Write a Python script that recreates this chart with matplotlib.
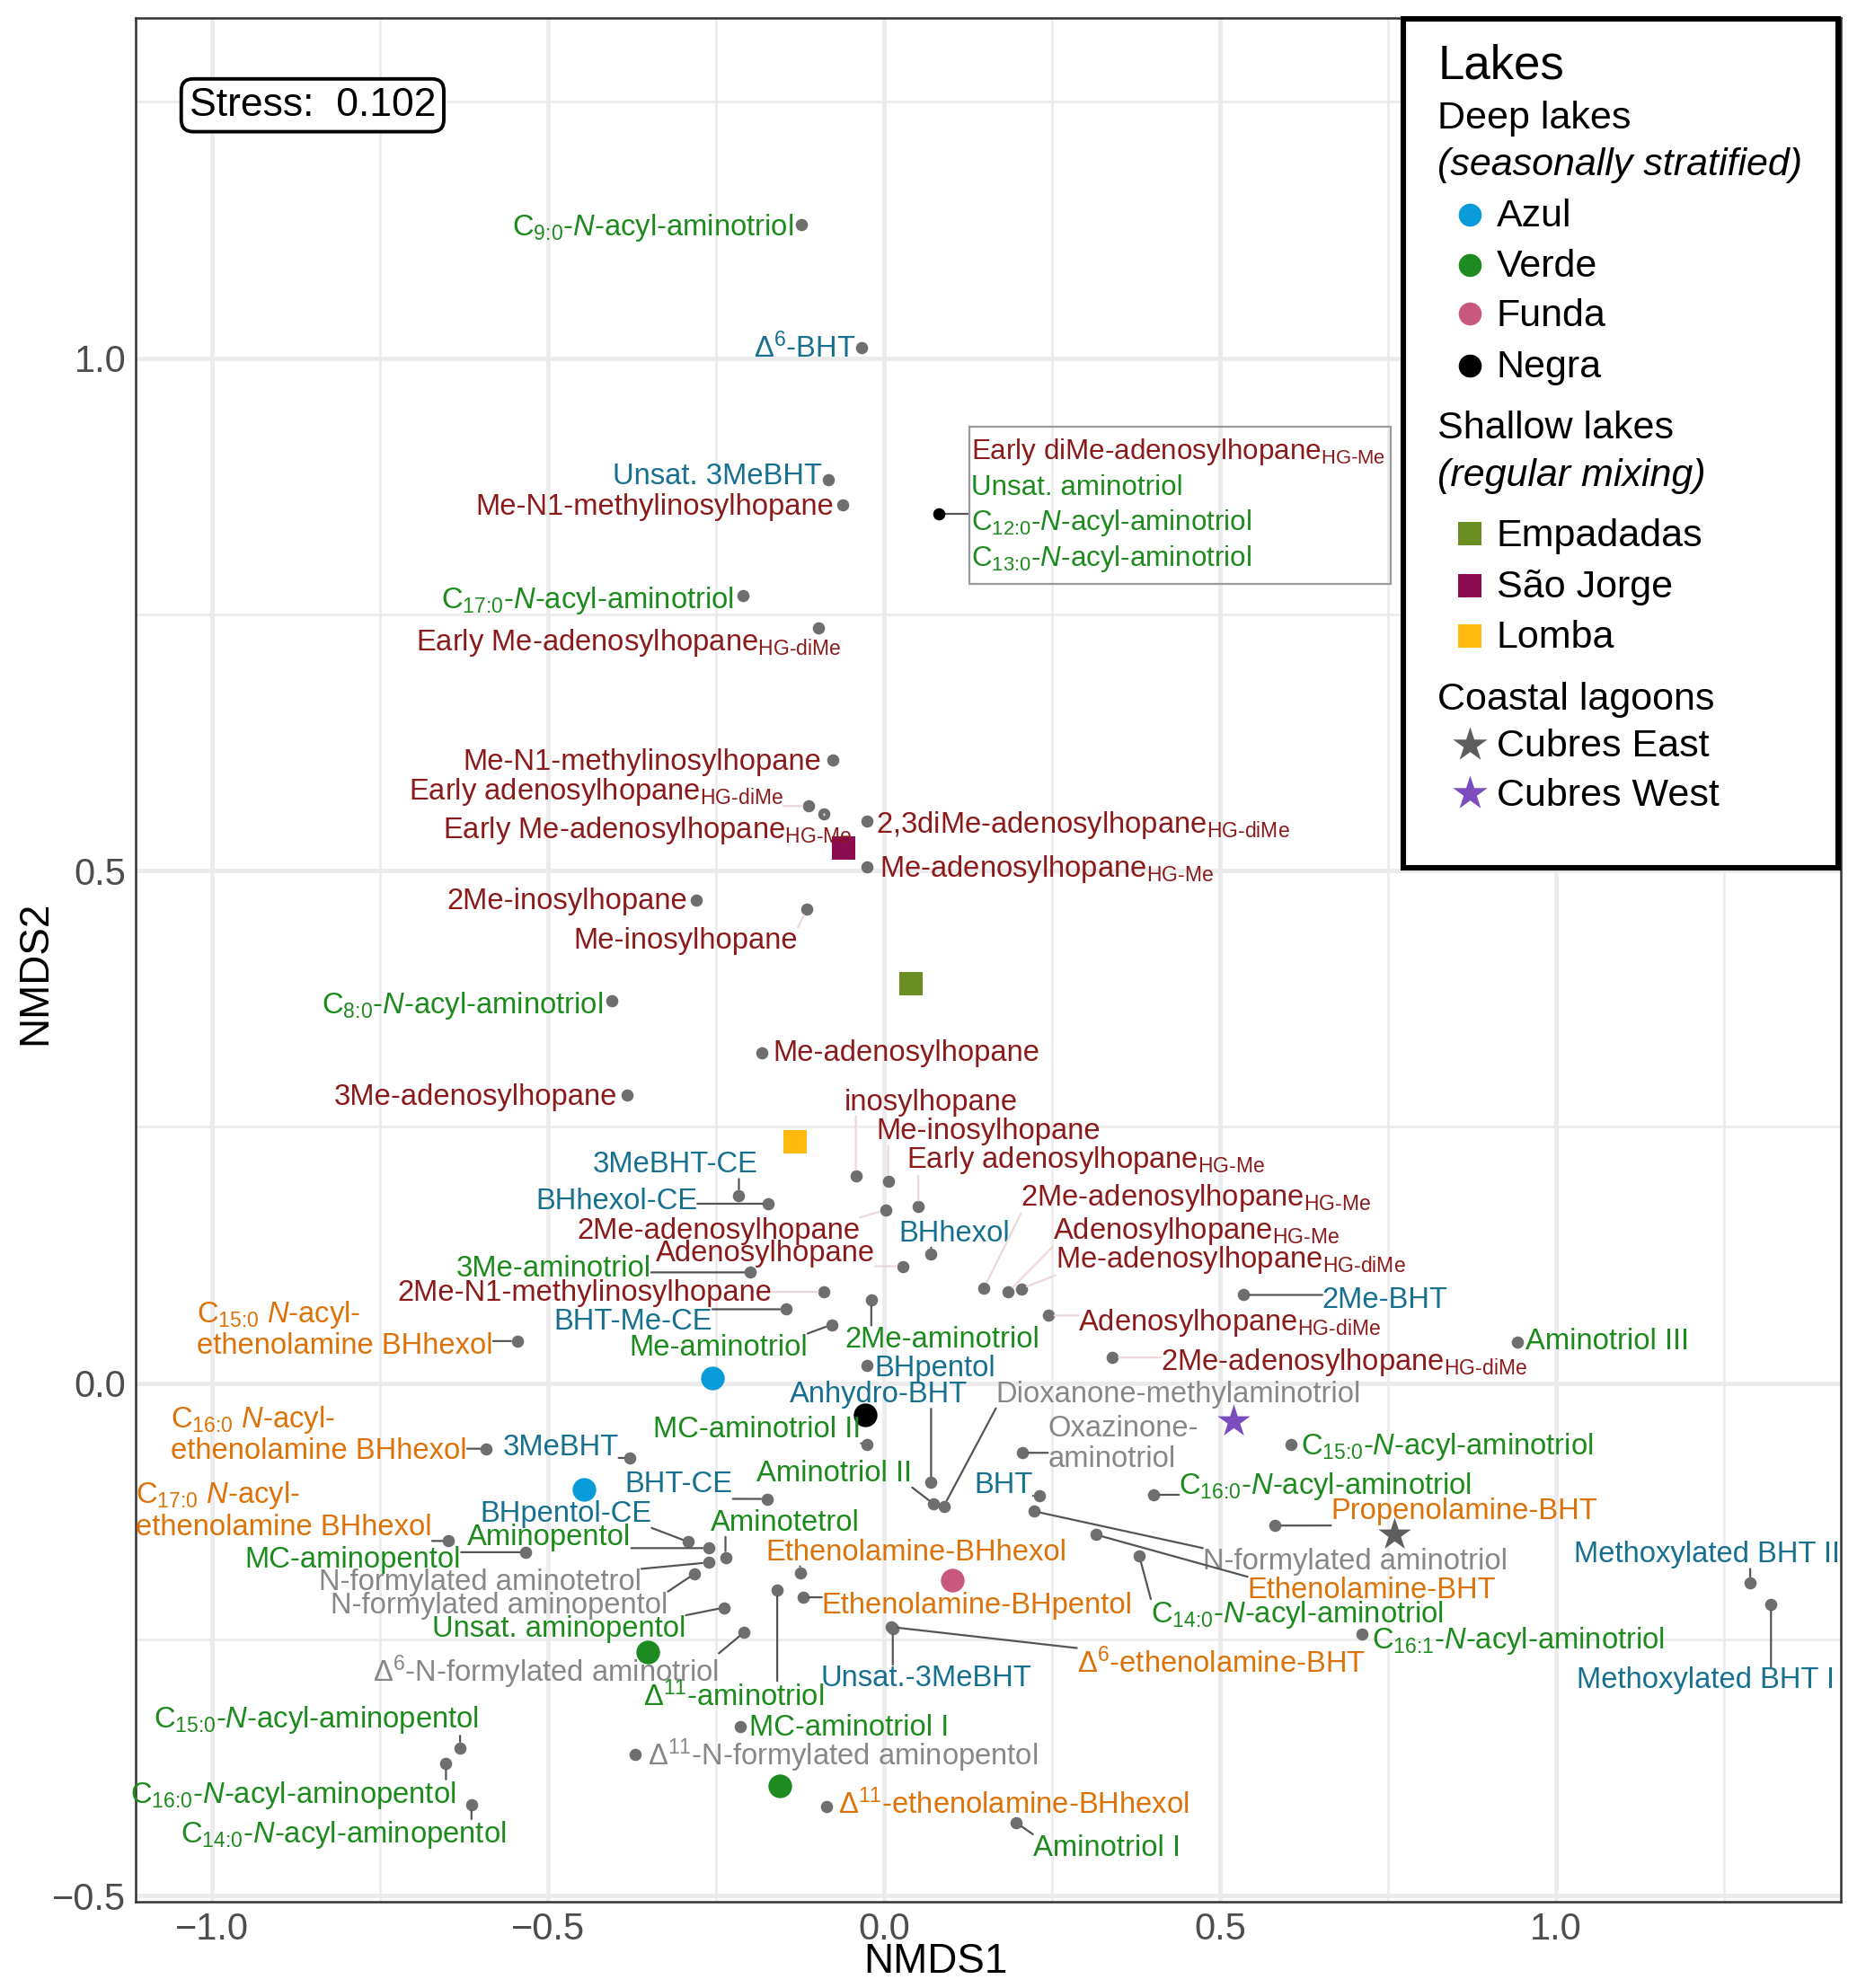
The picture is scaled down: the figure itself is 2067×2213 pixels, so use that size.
"""NMDS ordination of BHP compounds across Azores lakes (labelled scatter)."""

import numpy as np
import matplotlib
matplotlib.use('Agg')
import matplotlib.pyplot as plt
from matplotlib.patches import Rectangle
from matplotlib.text import Text

plt.rcParams['font.family'] = ['Liberation Sans', 'DejaVu Sans']
plt.rcParams['mathtext.fontset'] = 'custom'
plt.rcParams['mathtext.rm'] = 'Liberation Sans'
plt.rcParams['mathtext.it'] = 'Liberation Sans:italic'
plt.rcParams['mathtext.bf'] = 'Liberation Sans:bold'
plt.rcParams['mathtext.default'] = 'regular'

# ---- compound scores -------------------------------------------------------
labels = [
    'C$_{\\text{9:0}}$-$\\mathit{N}$-acyl-aminotriol',
    'Δ$^{6}$-BHT',
    'Unsat. 3MeBHT',
    'Me-N1-methylinosylhopane',
    'C$_{\\text{17:0}}$-$\\mathit{N}$-acyl-aminotriol',
    'Early Me-adenosylhopane$_{\\text{HG-diMe}}$',
    'Me-N1-methylinosylhopane',
    'Early adenosylhopane$_{\\text{HG-diMe}}$',
    'Early Me-adenosylhopane$_{\\text{HG-Me}}$',
    '2,3diMe-adenosylhopane$_{\\text{HG-diMe}}$',
    'Me-adenosylhopane$_{\\text{HG-Me}}$',
    '2Me-inosylhopane',
    'Me-inosylhopane',
    'C$_{\\text{8:0}}$-$\\mathit{N}$-acyl-aminotriol',
    'Me-adenosylhopane',
    '3Me-adenosylhopane',
    'inosylhopane',
    'Me-inosylhopane',
    'Early adenosylhopane$_{\\text{HG-Me}}$',
    '3MeBHT-CE',
    'BHhexol-CE',
    '2Me-adenosylhopane',
    'Adenosylhopane',
    'BHhexol',
    '3Me-aminotriol',
    '2Me-N1-methylinosylhopane',
    'BHT-Me-CE',
    'Me-aminotriol',
    '2Me-aminotriol',
    'BHpentol',
    '2Me-adenosylhopane$_{\\text{HG-Me}}$',
    'Adenosylhopane$_{\\text{HG-Me}}$',
    'Me-adenosylhopane$_{\\text{HG-diMe}}$',
    'Adenosylhopane$_{\\text{HG-diMe}}$',
    '2Me-adenosylhopane$_{\\text{HG-diMe}}$',
    '2Me-BHT',
    'Aminotriol III',
    'C$_{\\text{15:0}}$ $\\mathit{N}$-acyl-\nethenolamine BHhexol',
    'C$_{\\text{16:0}}$ $\\mathit{N}$-acyl-\nethenolamine BHhexol',
    '3MeBHT',
    'MC-aminotriol II',
    'Anhydro-BHT',
    'Dioxanone-methylaminotriol',
    'Aminotriol II',
    'Oxazinone-\naminotriol',
    'BHT',
    'N-formylated aminotriol',
    'Ethenolamine-BHT',
    'C$_{\\text{14:0}}$-$\\mathit{N}$-acyl-aminotriol',
    'C$_{\\text{16:0}}$-$\\mathit{N}$-acyl-aminotriol',
    'C$_{\\text{15:0}}$-$\\mathit{N}$-acyl-aminotriol',
    'Propenolamine-BHT',
    'C$_{\\text{16:1}}$-$\\mathit{N}$-acyl-aminotriol',
    'Methoxylated BHT II',
    'Methoxylated BHT I',
    'Ethenolamine-BHhexol',
    'Ethenolamine-BHpentol',
    'Δ$^{6}$-ethenolamine-BHT',
    'Unsat.-3MeBHT',
    'Δ$^{11}$-aminotriol',
    'Aminotetrol',
    'BHT-CE',
    'BHpentol-CE',
    'Aminopentol',
    'MC-aminopentol',
    'C$_{\\text{17:0}}$ $\\mathit{N}$-acyl-\nethenolamine BHhexol',
    'N-formylated aminotetrol',
    'N-formylated aminopentol',
    'Unsat. aminopentol',
    'Δ$^{6}$-N-formylated aminotriol',
    'MC-aminotriol I',
    'Δ$^{11}$-N-formylated aminopentol',
    'Δ$^{11}$-ethenolamine-BHhexol',
    'Aminotriol I',
    'C$_{\\text{15:0}}$-$\\mathit{N}$-acyl-aminopentol',
    'C$_{\\text{16:0}}$-$\\mathit{N}$-acyl-aminopentol',
    'C$_{\\text{14:0}}$-$\\mathit{N}$-acyl-aminopentol',
]

classes = [
    'amino', 'bht', 'bht', 'adeno', 'amino', 'adeno', 'adeno', 'adeno',
    'adeno', 'adeno', 'adeno', 'adeno', 'adeno', 'amino', 'adeno', 'adeno',
    'adeno', 'adeno', 'adeno', 'bht', 'bht', 'adeno', 'adeno', 'bht',
    'amino', 'adeno', 'bht', 'amino', 'amino', 'bht', 'adeno', 'adeno',
    'adeno', 'adeno', 'adeno', 'bht', 'amino', 'ethen', 'ethen', 'bht',
    'amino', 'bht', 'other', 'amino', 'other', 'bht', 'other', 'ethen',
    'amino', 'amino', 'amino', 'ethen', 'amino', 'bht', 'bht', 'ethen',
    'ethen', 'ethen', 'bht', 'amino', 'amino', 'bht', 'bht', 'amino',
    'amino', 'ethen', 'other', 'other', 'amino', 'other', 'amino', 'other',
    'ethen', 'amino', 'amino', 'amino', 'amino',
]

nmds1 = [
    -0.123, -0.034, -0.083, -0.062, -0.210, -0.098, -0.076, -0.112,
    -0.089, -0.025, -0.025, -0.280, -0.115, -0.405, -0.182, -0.382,
    -0.042, 0.006, 0.051, -0.216, -0.172, 0.002, 0.028, 0.070,
    -0.199, -0.089, -0.146, -0.078, -0.019, -0.026, 0.149, 0.185,
    0.204, 0.244, 0.340, 0.535, 0.943, -0.546, -0.592, -0.378,
    -0.025, 0.070, 0.089, 0.074, 0.206, 0.231, 0.223, 0.316,
    0.380, 0.401, 0.605, 0.582, 0.711, 1.289, 1.320, -0.125,
    -0.121, 0.011, 0.013, -0.159, -0.236, -0.174, -0.291, -0.261,
    -0.533, -0.648, -0.261, -0.282, -0.238, -0.208, -0.214, -0.371,
    -0.085, 0.197, -0.631, -0.652, -0.614,
]

nmds2 = [
    1.130, 1.010, 0.881, 0.857, 0.768, 0.737, 0.608, 0.563,
    0.555, 0.548, 0.504, 0.471, 0.462, 0.373, 0.322, 0.281,
    0.202, 0.197, 0.172, 0.183, 0.175, 0.169, 0.114, 0.126,
    0.108, 0.089, 0.072, 0.057, 0.081, 0.017, 0.093, 0.089,
    0.092, 0.066, 0.025, 0.086, 0.040, 0.041, -0.064, -0.073,
    -0.060, -0.097, -0.120, -0.118, -0.068, -0.110, -0.125, -0.148,
    -0.169, -0.109, -0.060, -0.139, -0.245, -0.195, -0.216, -0.185,
    -0.209, -0.238, -0.240, -0.202, -0.170, -0.113, -0.155, -0.161,
    -0.165, -0.154, -0.175, -0.186, -0.219, -0.243, -0.335, -0.362,
    -0.413, -0.429, -0.356, -0.371, -0.411,
]

# overlapping compounds listed in the box (single black point)
box_labels = [
    'Early diMe-adenosylhopane$_{\\text{HG-Me}}$',
    'Unsat. aminotriol',
    'C$_{\\text{12:0}}$-$\\mathit{N}$-acyl-aminotriol',
    'C$_{\\text{13:0}}$-$\\mathit{N}$-acyl-aminotriol',
]
box_classes = ['adeno', 'amino', 'amino', 'amino']
box_point = (0.081, 0.848)

# ---- lake sample scores ----------------------------------------------------
lakes = ['Azul', 'Verde', 'Funda', 'Negra',
         'Empadadas', 'São Jorge', 'Lomba', 'Cubres East', 'Cubres West']
lake_x = [[-0.255, -0.446], [-0.352, -0.155], [0.102], [-0.028],
          [0.040], [-0.060], [-0.132], [0.760], [0.520]]
lake_y = [[0.005, -0.104], [-0.262, -0.393], [-0.192], [-0.031],
          [0.390], [0.522], [0.235], [-0.148], [-0.037]]

stress = 0.102

# ---- styling / label placement (repel output, reference pixels) ------------
CLASS_COLOURS = {'amino': '#1c8a1c', 'adeno': '#8b1a1a', 'bht': '#17708f',
                 'ethen': '#dc7208', 'other': '#878787'}
LAKE_STYLE = {
    'Azul': ('o', '#0a9bdb'), 'Verde': ('o', '#1d8a22'),
    'Funda': ('o', '#c9587f'), 'Negra': ('o', '#000000'),
    'Empadadas': ('s', '#6b8e23'), 'São Jorge': ('s', '#8b0a50'),
    'Lomba': ('s', '#ffb90f'), 'Cubres East': ('*', '#5e5e5e'),
    'Cubres West': ('*', '#7b4dbf'),
}
SEG_COLOURS = {1: '#555555', 2: '#ecd8d8'}

# (dx, dy, ha, segment) per label; dy positive = down
label_layout = [
    (-6, 0, 'right', 0), (-4, 0, 'right', 0), (-5, -5, 'right', 0),
    (-7, 0, 'right', 0), (-7, 2, 'right', 0), (18, 10, 'right', 2),
    (-9, 0, 'right', 0), (-20, -13, 'right', 2), (22, 11, 'right', 2),
    (7, 1, 'left', 0), (10, 0, 'left', 0), (-7, -1, 'right', 0),
    (-7, 23, 'right', 2), (-7, 2, 'right', 0), (9, -2, 'left', 0),
    (-8, 0, 'right', 0), (59, -60, 'center', 2), (-9, -41, 'left', 2),
    (-9, -39, 'left', 2), (15, -26, 'right', 1), (-56, -4, 'right', 1),
    (-20, 15, 'right', 2), (-22, -12, 'right', 2), (18, -18, 'center', 1),
    (-78, -5, 'right', 1), (-41, -1, 'right', 2), (-58, 8, 'right', 1),
    (-19, 16, 'right', 1), (-21, 29, 'left', 1), (6, 0, 'left', 0),
    (29, -73, 'left', 2), (35, -50, 'left', 2), (27, -25, 'left', 2),
    (24, 4, 'left', 2), (38, 2, 'left', 2), (62, 2, 'left', 1),
    (6, -2, 'left', 0), (-19, -9, 'right', 1), (-15, -11, 'right', 1),
    (-9, -10, 'right', 1), (-5, -14, 'right', 1), (-41, -71, 'center', 1),
    (41, -90, 'left', 1), (-17, -26, 'right', 1), (20, -7, 'left', 1),
    (-5, -10, 'right', 1), (133, 38, 'left', 1), (119, 42, 'left', 1),
    (9, 44, 'left', 1), (20, -9, 'left', 1), (8, 0, 'left', 0),
    (44, -13, 'left', 1), (8, 3, 'left', 0), (71, -24, 'right', 1),
    (50, 58, 'right', 1), (-27, -18, 'left', 1), (15, 5, 'left', 1),
    (146, 28, 'left', 1), (26, 37, 'center', 1), (-34, 83, 'center', 1),
    (-12, -29, 'left', 1), (-27, -13, 'right', 1), (-29, -24, 'right', 1),
    (-61, -10, 'right', 1), (-51, 4, 'right', 1), (-13, -24, 'right', 1),
    (-53, 14, 'right', 1), (-21, 23, 'right', 1), (-30, 15, 'right', 1),
    (-20, 31, 'right', 1), (7, -1, 'left', 0), (10, 1, 'left', 0),
    (9, -2, 'left', 0), (13, 18, 'left', 1), (15, -24, 'right', 1),
    (8, 23, 'right', 1), (27, 22, 'right', 1),
]

PX = 1.4138 * 72 / 200     # reference pixel -> points
BASE = 8                   # half cap height, reference pixels
FS = 11.8

fig = plt.figure(figsize=(2067 / 200, 2213 / 200), dpi=200)
ax = fig.add_axes([0.0732, 0.0436, 0.9179, 0.9475])

ax.set_xlim(-1.1134, 1.4234)
ax.set_ylim(-0.5056, 1.3321)
ax.set_xticks([-1, -0.5, 0, 0.5, 1])
ax.set_xticks([-0.75, -0.25, 0.25, 0.75, 1.25], minor=True)
ax.set_yticks([-0.5, 0, 0.5, 1])
ax.set_yticks([-0.25, 0.25, 0.75, 1.25], minor=True)
ax.grid(which='major', color='#ebebeb', lw=1.7)
ax.grid(which='minor', color='#ebebeb', lw=0.9)
ax.set_axisbelow(True)
ax.tick_params(which='both', length=0)
ax.tick_params(labelsize=15, labelcolor='#4d4d4d', pad=4)
for sp in ax.spines.values():
    sp.set_color('#333333')
    sp.set_linewidth(0.9)

ax.text(0.4694, -0.0324, 'NMDS1', transform=ax.transAxes, ha='center',
        va='center', fontsize=16.5)
ax.text(-0.0589, 0.4929, 'NMDS2', transform=ax.transAxes, ha='center',
        va='center', fontsize=16.5, rotation=90)

# compound points and repelled labels
ax.scatter(nmds1, nmds2, s=24, color='#6e6e6e', lw=0, zorder=3)
annots = []
for lab, cls, x, y, (dx, dy, ha, seg) in zip(labels, classes, nmds1, nmds2,
                                             label_layout):
    multi = '\n' in lab
    off = (dx * PX, -(dy if multi else dy + BASE) * PX)
    arrow = None
    if seg:
        arrow = dict(arrowstyle='-', color=SEG_COLOURS[seg], lw=0.8,
                     shrinkA=0, shrinkB=2.5, patchA=None)
    an = ax.annotate(lab, (x, y), xytext=off, textcoords='offset points',
                     ha=ha, va='center' if multi else 'baseline', fontsize=FS,
                     color=CLASS_COLOURS[cls], arrowprops=arrow, zorder=5,
                     linespacing=1.1, multialignment='left')
    if seg:
        annots.append(an)

# boxed group of overlapping compounds
bx, by = box_point
ax.scatter([bx], [by], s=24, color='black', lw=0, zorder=3)
ax.add_patch(Rectangle((0.1267, 0.7794), 0.6276, 0.1537, fill=False,
                       ec='#9a9a9a', lw=0.8, zorder=4))
ax.plot([bx, 0.1267], [by, by], color='#555555', lw=0.8, zorder=2)
for i, (lab, cls) in enumerate(zip(box_labels, box_classes)):
    ax.annotate(lab, (bx, by), xytext=(26 * PX, -(-51 + 28 * i + BASE) * PX),
                textcoords='offset points', ha='left', va='baseline',
                fontsize=11.3, color=CLASS_COLOURS[cls], zorder=5)

# lake samples
for name, xs, ys in zip(lakes, lake_x, lake_y):
    mk, col = LAKE_STYLE[name]
    ax.scatter(xs, ys, marker=mk, s=190 if mk == '*' else 90, color=col,
               lw=0, zorder=4)

ax.text(0.1036, 0.9535, f'Stress:  {stress}', transform=ax.transAxes,
        ha='center', va='center', fontsize=16, zorder=6,
        bbox=dict(boxstyle='round,pad=0.2,rounding_size=0.3', fc='white',
                  ec='black', lw=1.4))

# legend panel
ax.add_patch(Rectangle((0.7437, 0.5489), 0.2548, 0.4504, transform=ax.transAxes,
                       fc='white', ec='black', lw=2.2, zorder=10, clip_on=False))
LX, MX, TX = 0.7638, 0.7824, 0.7981
ax.text(LX, 0.9745, 'Lakes', transform=ax.transAxes, fontsize=19,
        va='center', zorder=11)
headers = [('Deep lakes', 0.9465, 'normal'),
           ('(seasonally stratified)', 0.9216, 'italic'),
           ('Shallow lakes', 0.7817, 'normal'),
           ('(regular mixing)', 0.7565, 'italic'),
           ('Coastal lagoons', 0.6378, 'normal')]
for txt, yy, style in headers:
    ax.text(LX, yy, txt, transform=ax.transAxes, fontsize=15.5,
            style=style, va='center', zorder=11)
legend_y = [0.8955, 0.8689, 0.8428, 0.8154, 0.7260, 0.6986, 0.6719,
            0.6141, 0.5882]
for name, yy in zip(lakes, legend_y):
    mk, col = LAKE_STYLE[name]
    ax.scatter([MX], [yy], marker=mk, s=210 if mk == '*' else 85, color=col,
               lw=0, transform=ax.transAxes, clip_on=False, zorder=11)
    ax.text(TX, yy - 0.0012, name, transform=ax.transAxes, fontsize=15.5,
            va='center', zorder=11)

# segments start at the point of each label box nearest to its compound
fig.canvas.draw()
renderer = fig.canvas.get_renderer()
for an in annots:
    bb = Text.get_window_extent(an, renderer)
    px, py = ax.transData.transform(an.xy)
    nx = np.clip(px, bb.x0, bb.x1)
    ny = np.clip(py, bb.y0, bb.y1)
    an._arrow_relpos = ((nx - bb.x0) / bb.width, (ny - bb.y0) / bb.height)

fig.savefig('out.png', dpi=200)
